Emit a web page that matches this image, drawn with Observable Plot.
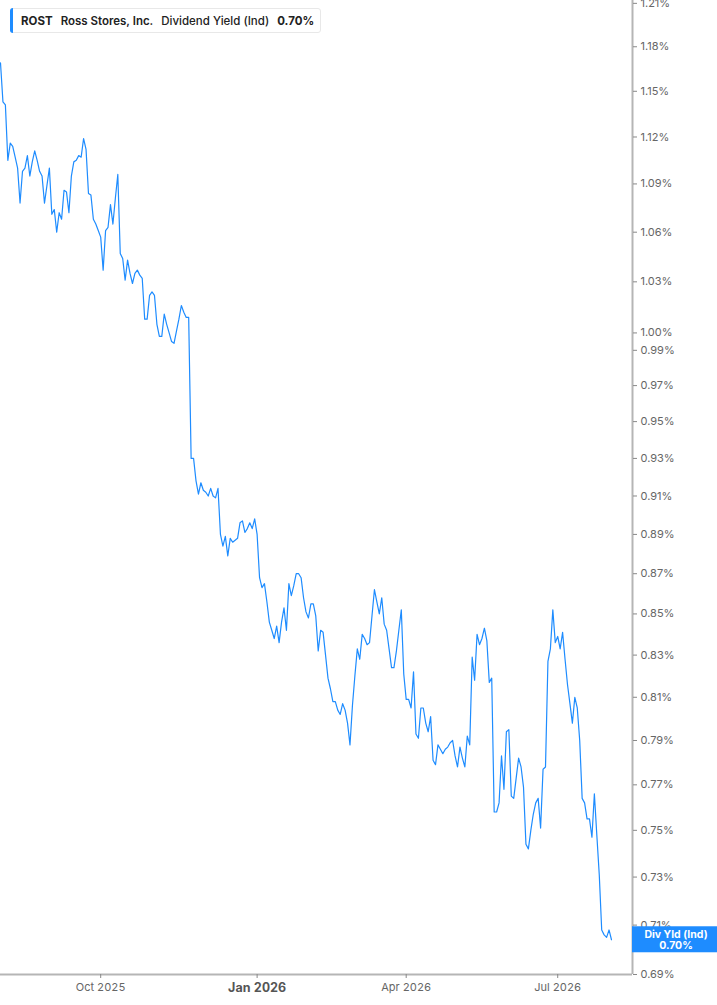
<!DOCTYPE html>
<html><head><meta charset="utf-8">
<script src="https://cdn.jsdelivr.net/npm/d3@7"></script>
<script src="https://cdn.jsdelivr.net/npm/@observablehq/plot@0.6"></script>
<style>
body{margin:0;background:#fff;font-family:Inter,sans-serif;}
#wrap{position:relative;width:717px;height:1005px;overflow:hidden;}
#legend{position:absolute;left:10px;top:8px;height:25px;box-sizing:border-box;border:1px solid #e8e8e8;border-radius:3px;background:#fff;display:flex;align-items:center;padding:0 6px 0 10px;font-size:11.5px;color:#222;white-space:nowrap;z-index:2;}
#legend .bar{position:absolute;left:-1px;top:-1px;bottom:-1px;width:3px;background:#1e8cff;border-radius:3px 0 0 3px;}
#legend span{margin-right:8px;}
#legend span:last-child{margin-right:0;}
</style></head><body><div id="wrap"><div id="legend"></div></div>
<script>
const ticker = "ROST";
const company = "Ross Stores, Inc.";
const metric = "Dividend Yield (Ind)";
const boxLabel = "Div Yld (Ind)";

// dividend yield (%) per trading day
const values = [
1.169,1.143,1.141,1.105,1.116,1.114,1.107,1.100,1.078,1.098,
1.100,1.108,1.095,1.104,1.111,1.105,1.098,1.095,1.078,1.089,
1.100,1.071,1.074,1.060,1.072,1.068,1.086,1.085,1.072,1.095,
1.104,1.105,1.108,1.107,1.119,1.112,1.084,1.083,1.068,1.065,
1.061,1.057,1.037,1.061,1.063,1.077,1.065,1.081,1.096,1.047,
1.044,1.031,1.043,1.035,1.029,1.035,1.037,1.034,1.032,1.008,
1.008,1.022,1.024,1.022,1.005,0.998,0.998,1.011,1.005,1.000,
0.995,0.994,1.001,1.008,1.016,1.012,1.009,1.009,0.930,0.930,
0.918,0.911,0.917,0.913,0.912,0.910,0.914,0.910,0.909,0.914,
0.890,0.884,0.889,0.879,0.888,0.886,0.887,0.888,0.896,0.897,
0.891,0.893,0.896,0.893,0.898,0.890,0.868,0.863,0.865,0.856,
0.846,0.842,0.838,0.844,0.836,0.846,0.853,0.842,0.865,0.859,
0.864,0.870,0.870,0.868,0.858,0.851,0.848,0.855,0.855,0.849,
0.832,0.842,0.841,0.830,0.819,0.814,0.808,0.808,0.804,0.802,
0.807,0.804,0.798,0.788,0.806,0.820,0.833,0.828,0.840,0.838,
0.835,0.836,0.849,0.862,0.856,0.850,0.858,0.845,0.842,0.833,
0.824,0.824,0.832,0.842,0.852,0.821,0.809,0.809,0.805,0.822,
0.793,0.791,0.805,0.805,0.798,0.794,0.801,0.781,0.779,0.788,
0.786,0.784,0.786,0.787,0.789,0.790,0.783,0.778,0.787,0.782,
0.778,0.792,0.788,0.829,0.818,0.840,0.835,0.838,0.843,0.837,
0.817,0.819,0.758,0.758,0.762,0.783,0.768,0.794,0.795,0.765,
0.764,0.773,0.782,0.778,0.769,0.744,0.742,0.750,0.757,0.762,
0.764,0.751,0.777,0.778,0.827,0.833,0.852,0.836,0.839,0.833,
0.841,0.828,0.816,0.807,0.798,0.810,0.805,0.790,0.764,0.762,
0.755,0.755,0.747,0.766,0.748,0.731,0.708,0.706,0.705,0.708,
0.704
];

const yTicks = [0.69,0.71,0.73,0.75,0.77,0.79,0.81,0.83,0.85,0.87,0.89,0.91,0.93,0.95,0.97,0.99,1.00,1.03,1.06,1.09,1.12,1.15,1.18,1.21];
const yDomain = [0.69, 1.212];
const xTickIndex = [41, 105, 166, 228];
const xTickLabels = ["Oct 2025", "Jan 2026", "Apr 2026", "Jul 2026"];
const xDomain = [0, 258.6];

const last = values[values.length - 1];
const lastText = last.toFixed(2) + "%";

const legend = document.getElementById("legend");
legend.innerHTML = `<div class="bar"></div><span style="font-weight:700">${ticker}</span><span style="font-weight:600">${company}</span><span style="font-weight:500">${metric}</span><span style="font-weight:700">${lastText}</span>`;

const chart = Plot.plot({
  width: 717,
  height: 1005,
  marginLeft: 0,
  marginRight: 85,
  marginTop: 0,
  marginBottom: 31,
  style: {fontFamily: "Inter, sans-serif", background: "#fff"},
  x: {type: "linear", domain: xDomain},
  y: {type: "log", domain: yDomain},
  marks: [
    Plot.lineY(values, {x: (d, i) => i, y: d => d, stroke: "#1e8cff", strokeWidth: 1.2, clip: true}),
    Plot.ruleY([yDomain[0]], {stroke: "#b5b5b5", strokeWidth: 2}),
    Plot.ruleX([xDomain[1]], {stroke: "#b5b5b5", strokeWidth: 2}),
    Plot.axisY({anchor: "right", ticks: yTicks, tickFormat: null, text: null, tickSize: 4, stroke: "#888", label: null}),
    Plot.text(yTicks, {x: xDomain[1], y: d => d, text: d => d.toFixed(2) + "%", dx: 8, textAnchor: "start", fontSize: 11, fill: "#666"}),
    Plot.axisX({ticks: xTickIndex, tickFormat: d => xTickLabels[xTickIndex.indexOf(d)], tickSize: 4, tickPadding: 5, fontSize: 11, stroke: "#888", fill: "#666", label: null})
  ]
});

const svg = d3.select(chart);
svg.selectAll("text").each(function() {
  if (this.textContent === xTickLabels[1]) {
    d3.select(this).attr("font-weight", 700).attr("font-size", 12.5).attr("fill", "#555");
  }
});

const ys = chart.scale("y");
const xs = chart.scale("x");
const yLast = ys.apply(last);
const x0 = xs.apply(xDomain[1]);
const g = svg.append("g");
g.append("rect").attr("x", x0).attr("y", yLast - 13).attr("width", 717 - x0).attr("height", 26).attr("fill", "#1e8cff");
g.append("text").attr("x", x0 + 44).attr("y", yLast - 1.5).attr("text-anchor", "middle").attr("fill", "#fff").attr("font-size", 10.5).attr("font-weight", 700).text(boxLabel);
g.append("text").attr("x", x0 + 44).attr("y", yLast + 9.5).attr("text-anchor", "middle").attr("fill", "#fff").attr("font-size", 10.5).attr("font-weight", 700).text(lastText);

document.getElementById("wrap").appendChild(chart);
</script>
</body></html>
